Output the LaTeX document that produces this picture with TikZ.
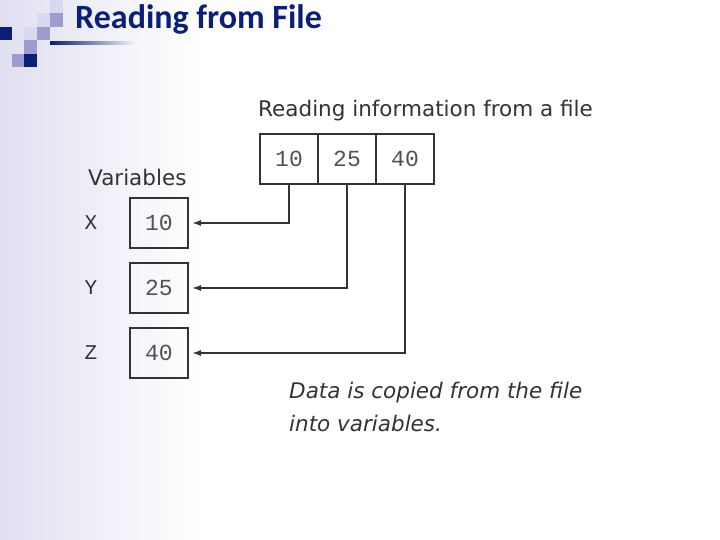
\documentclass[tikz,border=0pt]{standalone}
\usepackage{fontspec}
\setmainfont{Carlito}
\newfontfamily\fira{DejaVu Sans}
\newfontfamily\mono{Liberation Mono}
\usetikzlibrary{arrows.meta}
\definecolor{navy}{HTML}{0A1F7A}
\definecolor{lav}{HTML}{D8D8EE}
\definecolor{mid}{HTML}{9C9CCF}
\definecolor{ink}{HTML}{333333}
\begin{document}
\begin{tikzpicture}[x=1pt,y=-1pt,
  cell/.style={draw=ink,line width=2pt,minimum width=58pt,minimum height=50pt,inner sep=0pt,font=\mono\fontsize{23}{23}\selectfont,text=ink!85},
  lbl/.style={font=\fira\fontsize{21.5}{24}\selectfont,text=ink,anchor=west,inner sep=0pt},
  conn/.style={draw=ink,line width=1.5pt,-{Latex[length=9pt,width=6pt]}}]
\useasboundingbox (0,0) rectangle (720,540);
\shade[left color=lav!80,right color=white] (0,0) rectangle (200,540);
\fill[white] (200,0) rectangle (720,540);
% decoration squares
\fill[lav] (50,0) rectangle (63,13);
\fill[lav] (37,13) rectangle (50,27);
\fill[mid] (50,13) rectangle (63,27);
\fill[lav] (24,27) rectangle (37,40);
\fill[mid] (37,27) rectangle (50,40);
\fill[navy] (0,27) rectangle (12,40);
\fill[mid] (24,40) rectangle (37,54);
\fill[mid] (12,54) rectangle (24,67);
\fill[navy] (24,54) rectangle (37,67);
\shade[left color=navy,right color=white] (50,42) rectangle (140,45);
\node[anchor=base west,inner sep=0pt,text=navy,font=\bfseries\fontsize{34}{34}\selectfont] (title) at (75,29) {Reading from File};
% file
\node[cell] (f1) at (289,159) {10};
\node[cell] (f2) at (347,159) {25};
\node[cell] (f3) at (405,159) {40};
\node[lbl,anchor=base west] (head) at (258,117) {Reading information from a file};
\node[lbl,anchor=base west] (vars) at (88,186) {Variables};
\node[cell] (x) at (159,223) {10};
\node[cell] (y) at (159,288) {25};
\node[cell] (z) at (159,353) {40};
\node[font=\mono\fontsize{21}{21}\selectfont,text=ink] (xl) at (91,223) {X};
\node[font=\mono\fontsize{21}{21}\selectfont,text=ink] (yl) at (91,288) {Y};
\node[font=\mono\fontsize{21}{21}\selectfont,text=ink] (zl) at (91,353) {Z};
\draw[conn] (f1.south) |- ([xshift=3pt]x.east);
\draw[conn] (f2.south) |- ([xshift=3pt]y.east);
\draw[conn] (f3.south) |- ([xshift=3pt]z.east);
\node[lbl,anchor=base west,font=\fira\itshape\fontsize{21.5}{24}\selectfont] (cap1) at (289,398) {Data is copied from the file};
\node[lbl,anchor=base west,font=\fira\itshape\fontsize{21.5}{24}\selectfont] (cap2) at (289,431) {into variables.};
\end{tikzpicture}
\end{document}
